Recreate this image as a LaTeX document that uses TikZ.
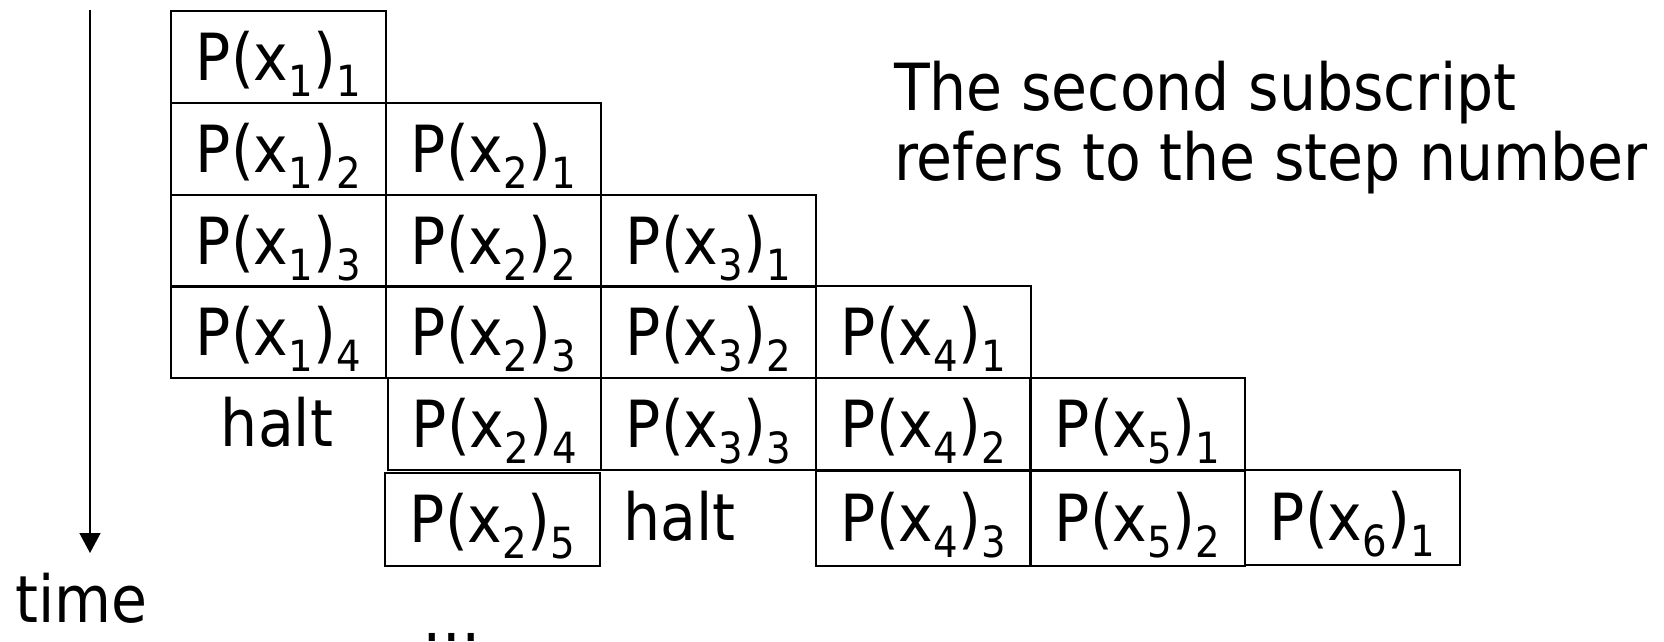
\documentclass[tikz,border=0pt]{standalone}
\usepackage{fontspec}
\setmainfont{DejaVu Sans Condensed}
\usetikzlibrary{arrows.meta}
\newcommand{\subsc}[1]{\raisebox{-16pt}{\fontsize{43pt}{43pt}\selectfont #1}}
\newcommand{\pcell}[2]{P(x\subsc{#1})\subsc{#2}}
\begin{document}
\begin{tikzpicture}[x=1pt,y=-1pt,
  bigfont/.style={font=\fontsize{65pt}{78pt}\selectfont},
  cellbox/.style={draw, line width=1.5pt, minimum width=215pt, minimum height=92pt,
    inner sep=0pt, text height=47pt, text depth=0pt, anchor=north west, bigfont},
  plain/.style={inner sep=0pt, text height=47pt, text depth=0pt, bigfont}]
\useasboundingbox (0,0) rectangle (1664,641);
% row 1
\node[cellbox] (c11) at (170,10) {\pcell{1}{1}};
% row 2
\node[cellbox] (c12) at (170,102) {\pcell{1}{2}};
\node[cellbox] (c21) at (385,102) {\pcell{2}{1}};
% row 3
\node[cellbox] (c13) at (170,194) {\pcell{1}{3}};
\node[cellbox] (c22) at (385,194) {\pcell{2}{2}};
\node[cellbox] (c31) at (600,194) {\pcell{3}{1}};
% row 4
\node[cellbox] (c14) at (170,285) {\pcell{1}{4}};
\node[cellbox] (c23) at (385,285) {\pcell{2}{3}};
\node[cellbox] (c32) at (600,285) {\pcell{3}{2}};
\node[cellbox] (c41) at (815,285) {\pcell{4}{1}};
% row 5
\node[plain] (halt1) at (277,423) {halt};
\node[cellbox, minimum width=213pt] (c24) at (387,377) {\pcell{2}{4}};
\node[cellbox] (c33) at (600,377) {\pcell{3}{3}};
\node[cellbox] (c42) at (815,377) {\pcell{4}{2}};
\node[cellbox] (c51) at (1029,377) {\pcell{5}{1}};
% row 6
\node[cellbox, minimum height=93pt] (c25) at (384,472) {\pcell{2}{5}};
\node[plain, anchor=west] (halt2) at (623,517) {halt};
\node[cellbox, minimum height=95pt] (c43) at (815,470) {\pcell{4}{3}};
\node[cellbox, minimum height=95pt] (c52) at (1029,470) {\pcell{5}{2}};
\node[cellbox, minimum height=95pt] (c61) at (1244,469) {\pcell{6}{1}};
% time axis
\coordinate (arrowtop) at (90,10);
\coordinate (arrowtip) at (90,553);
\draw[line width=1.5pt, -{Triangle[width=21pt,length=20pt]}] (arrowtop) -- (arrowtip);
\node[inner sep=0pt, bigfont, anchor=base west] (time) at (15,622) {time};
\node[inner sep=0pt, bigfont, anchor=base] (dots) at (452,641) {\dots};
% note
\node[inner sep=0pt, bigfont, anchor=base west] (note1) at (894,110) {The second subscript};
\node[inner sep=0pt, bigfont, anchor=base west] (note2) at (894,180) {refers to the step number};
\end{tikzpicture}
\end{document}
